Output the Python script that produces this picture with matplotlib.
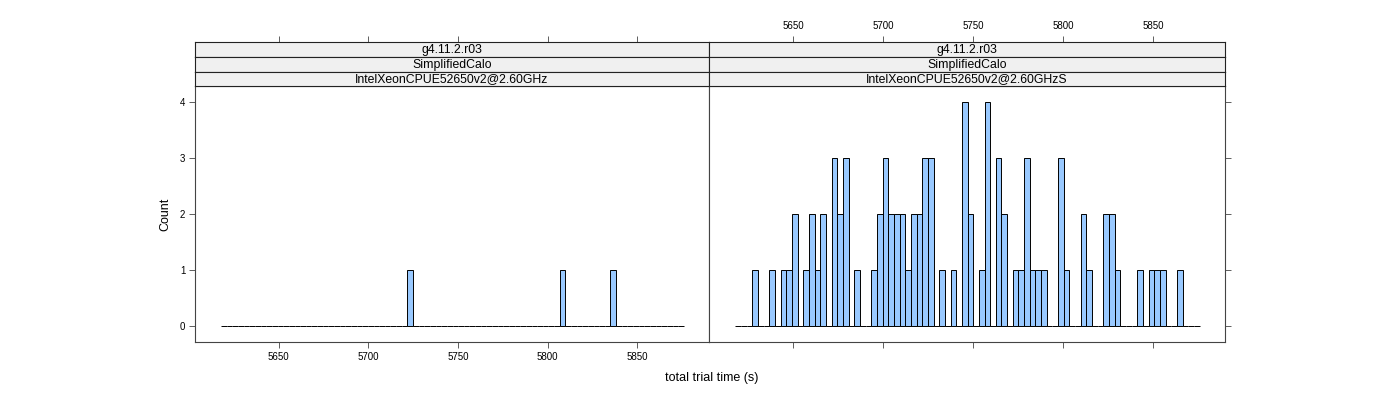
import matplotlib
matplotlib.use("Agg")
import matplotlib.pyplot as plt
import numpy as np

plt.rcParams['font.family'] = ['Liberation Sans', 'DejaVu Sans']

# histogram breaks (s)
bin_start = 5618.0
bin_width = 3.146

# counts per bin, 82 bins
left_counts = [0] * 82
for b in (33, 60, 69):
    left_counts[b] = 1

right_counts = [0, 0, 0, 1, 0, 0, 1, 0, 1, 1,
                2, 0, 1, 2, 1, 2, 0, 3, 2, 3,
                0, 1, 0, 0, 1, 2, 3, 2, 2, 2,
                1, 2, 2, 3, 3, 0, 1, 0, 1, 0,
                4, 2, 0, 1, 4, 0, 3, 2, 0, 1,
                1, 3, 1, 1, 1, 0, 0, 3, 1, 0,
                0, 2, 1, 0, 0, 2, 2, 1, 0, 0,
                0, 1, 0, 1, 1, 1, 0, 0, 1, 0,
                0, 0]

strips_left = ["g4.11.2.r03", "SimplifiedCalo", "IntelXeonCPUE52650v2@2.60GHz"]
strips_right = ["g4.11.2.r03", "SimplifiedCalo", "IntelXeonCPUE52650v2@2.60GHzS"]
xticks = [5650, 5700, 5750, 5800, 5850]
yticks = [0, 1, 2, 3, 4]

W, H = 1400, 400
fig = plt.figure(figsize=(14, 4), dpi=100)

xlim = (5603.4, 5890.0)
ylim = (-0.28, 4.28)
bar_col = '#99C9FF'

def px(x0, y0, x1, y1):
    return [x0 / W, 1 - y1 / H, (x1 - x0) / W, (y1 - y0) / H]

panels = [(195, 709, left_counts, strips_left, 'left'),
          (709, 1225, right_counts, strips_right, 'right')]

edges = [bin_start + i * bin_width for i in range(82)]

for x0, x1, counts, strips, side in panels:
    ax = fig.add_axes(px(x0, 86, x1, 342))
    ax.bar(edges, counts, width=bin_width, align='edge', color=bar_col,
           edgecolor='black', linewidth=0.7)
    ax.set_xlim(*xlim)
    ax.set_ylim(*ylim)
    for s in ax.spines.values():
        s.set_linewidth(0.8)
        s.set_color('#444444')
    ax.set_xticks(xticks)
    ax.tick_params(axis='both', direction='out', length=4.5, width=0.6,
                   labelsize=7, colors='#444444', labelcolor='black', pad=2.5)
    if side == 'left':
        ax.set_yticks(yticks)
        ax.set_ylabel('Count', fontsize=9, labelpad=6)
        ax.tick_params(axis='x', labelbottom=True)
    else:
        ax.set_yticks(yticks)
        ax.yaxis.tick_right()
        ax.tick_params(axis='y', labelright=False)
        ax.tick_params(axis='x', labelbottom=False)

    # strips
    tops = [42, 57, 71.5, 86]
    for i, txt in enumerate(strips):
        sax = fig.add_axes(px(x0, tops[i], x1, tops[i + 1]))
        sax.set_facecolor('#F0F0F0')
        sax.set_xlim(*xlim)
        sax.set_yticks([])
        for s in sax.spines.values():
            s.set_linewidth(0.8)
            s.set_color('#222222')
        sax.text(0.5, 0.45, txt, transform=sax.transAxes, ha='center',
                 va='center', fontsize=8.8)
        if i == 0:
            sax.set_xticks(xticks)
            sax.xaxis.tick_top()
            sax.tick_params(axis='x', direction='out', length=4.5, width=0.6,
                            labelsize=7, colors='#444444', labelcolor='black',
                            labeltop=(side == 'right'))
        else:
            sax.set_xticks([])

fig.text(712 / W, 1 - 378 / H, 'total trial time (s)', ha='center',
         va='center', fontsize=9)

fig.savefig('out.png', dpi=100)
